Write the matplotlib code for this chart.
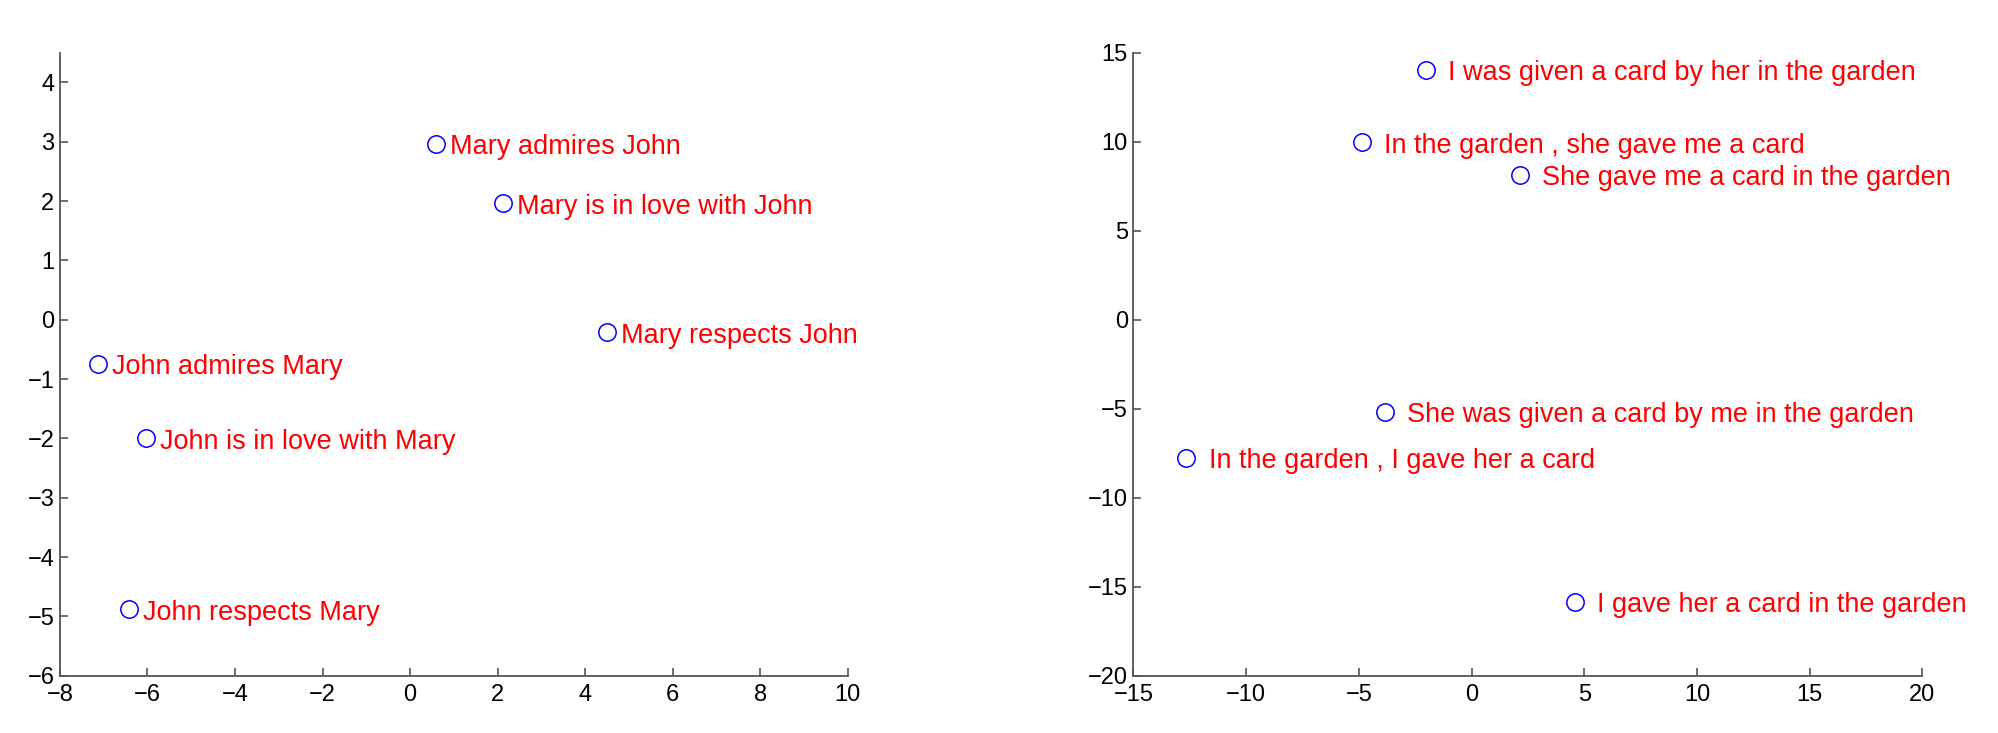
import numpy as np
import matplotlib.pyplot as plt

# ---- donnees ----
left_labels = ["Mary admires John", "Mary is in love with John", "Mary respects John",
               "John admires Mary", "John is in love with Mary", "John respects Mary"]
left_x = [0.60, 2.13, 4.51, -7.13, -6.03, -6.43]
left_y = [2.97, 1.96, -0.21, -0.74, -2.00, -4.88]

right_labels = ["I was given a card by her in the garden",
                "In the garden , she gave me a card",
                "She gave me a card in the garden",
                "She was given a card by me in the garden",
                "In the garden , I gave her a card",
                "I gave her a card in the garden"]
right_x = [-2.04, -4.87, 2.15, -3.85, -12.65, 4.58]
right_y = [14.05, 9.97, 8.16, -5.16, -7.74, -15.84]

plt.rcParams['font.family'] = ['Liberation Sans', 'DejaVu Sans']

fig = plt.figure(figsize=(19.99, 7.33), dpi=100)
ax1 = fig.add_axes([0.030, 0.078, 0.394, 0.850])
ax2 = fig.add_axes([0.567, 0.078, 0.3947, 0.850])

def panel(ax, x, y, labels, xlim, ylim, xticks, yticks, dx):
    ax.plot(x, y, 'o', mfc='none', mec='b', ms=12.5, mew=1.1)
    for xi, yi, s in zip(x, y, labels):
        # texte decale un peu vers le bas pour etre centre sur le cercle
        ax.annotate(s, (xi, yi), xytext=(dx, -2.5), textcoords='offset points',
                    color='r', fontsize=19.5, va='center', ha='left')
    ax.set_xlim(xlim)
    ax.set_ylim(ylim)
    ax.set_xticks(xticks)
    ax.set_yticks(yticks)
    for s in ['top', 'right']:
        ax.spines[s].set_visible(False)
    for s in ['left', 'bottom']:
        ax.spines[s].set_color('#555555')
        ax.spines[s].set_linewidth(1.3)
    ax.tick_params(direction='in', length=5.5, width=1.2, color='#555555',
                   labelsize=17)
    ax.tick_params(axis='x', pad=6)
    ax.tick_params(axis='y', pad=4)

panel(ax1, left_x, left_y, left_labels, (-8, 10), (-6, 4.5),
      np.arange(-8, 11, 2), np.arange(-6, 5, 1), 10)
panel(ax2, right_x, right_y, right_labels, (-15, 20), (-20, 15),
      np.arange(-15, 21, 5), np.arange(-20, 16, 5), 16)

fig.savefig('out.png', dpi=100)
